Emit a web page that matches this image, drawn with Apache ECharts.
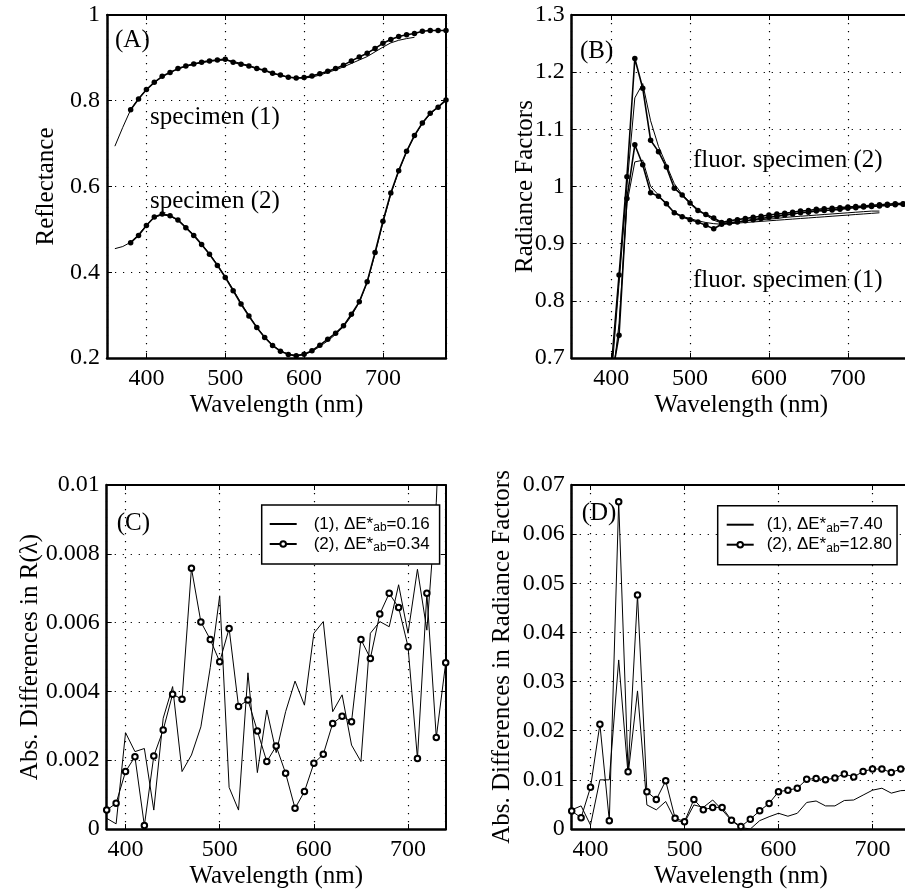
<!DOCTYPE html>
<html><head><meta charset="utf-8">
<script src="https://cdn.jsdelivr.net/npm/echarts@6/dist/echarts.min.js"></script>
<style>html,body{margin:0;padding:0;background:#fff}#c{width:905px;height:895px}</style>
</head><body><div id="c"></div>
<script>
// ---------- wavelengths (nm) ----------
const wl380to780 = [380,390,400,410,420,430,440,450,460,470,480,490,500,510,520,530,540,550,560,570,580,590,600,610,620,630,640,650,660,670,680,690,700,710,720,730,740,750,760,770,780];
const wl360to740 = [360,370,380,390,400,410,420,430,440,450,460,470,480,490,500,510,520,530,540,550,560,570,580,590,600,610,620,630,640,650,660,670,680,690,700,710,720,730,740];
const wl360to780 = [360,370,380,390,400,410,420,430,440,450,460,470,480,490,500,510,520,530,540,550,560,570,580,590,600,610,620,630,640,650,660,670,680,690,700,710,720,730,740,750,760,770,780];
const wl400to780 = [400,410,420,430,440,450,460,470,480,490,500,510,520,530,540,550,560,570,580,590,600,610,620,630,640,650,660,670,680,690,700,710,720,730,740,750,760,770,780];
const wl400to740 = [400,410,420,430,440,450,460,470,480,490,500,510,520,530,540,550,560,570,580,590,600,610,620,630,640,650,660,670,680,690,700,710,720,730,740];
const wl380to740 = [380,390,400,410,420,430,440,450,460,470,480,490,500,510,520,530,540,550,560,570,580,590,600,610,620,630,640,650,660,670,680,690,700,710,720,730,740];

// ---------- (A) reflectance ----------
const specimen1Measured = [0.779,0.804,0.826,0.843,0.857,0.866,0.875,0.881,0.886,0.890,0.893,0.895,0.897,0.890,0.885,0.881,0.875,0.871,0.864,0.860,0.855,0.853,0.854,0.858,0.863,0.869,0.875,0.883,0.893,0.902,0.911,0.922,0.934,0.943,0.950,0.954,0.957,0.962,0.964,0.964,0.964];
const specimen1Fit = [0.694,0.738,0.779,0.805,0.826,0.842,0.856,0.866,0.874,0.880,0.885,0.889,0.892,0.894,0.895,0.892,0.887,0.882,0.876,0.870,0.864,0.859,0.855,0.853,0.853,0.855,0.860,0.866,0.872,0.879,0.887,0.895,0.903,0.914,0.925,0.935,0.941,0.945,0.948];
const specimen2Measured = [0.469,0.486,0.509,0.529,0.536,0.532,0.522,0.504,0.486,0.465,0.442,0.416,0.388,0.357,0.326,0.298,0.271,0.248,0.229,0.216,0.208,0.205,0.209,0.217,0.230,0.244,0.258,0.275,0.302,0.331,0.378,0.446,0.519,0.585,0.637,0.682,0.719,0.748,0.771,0.785,0.802];
const specimen2Fit = [0.455,0.460,0.470,0.488,0.510,0.528,0.534,0.531,0.521,0.505,0.487,0.466,0.443,0.418,0.390,0.360,0.328,0.299,0.272,0.249,0.230,0.217,0.209,0.206,0.208,0.215,0.227,0.240,0.255,0.273,0.298,0.330,0.376,0.443,0.515,0.582,0.636,0.681,0.718,0.747,0.769,0.785,0.800];

// ---------- (B) radiance factors ----------
const fluor2Measured = [0.68,0.845,1.017,1.224,1.172,1.081,1.061,1.034,0.997,0.985,0.971,0.958,0.951,0.945,0.937,0.940,0.942,0.944,0.946,0.948,0.950,0.952,0.953,0.955,0.957,0.958,0.960,0.961,0.962,0.963,0.964,0.965,0.966,0.967,0.968,0.969,0.970,0.970,0.971];
const fluor1Measured = [0.66,0.740,0.979,1.073,1.038,0.989,0.983,0.970,0.954,0.947,0.942,0.938,0.932,0.926,0.934,0.936,0.938,0.940,0.942,0.944,0.946,0.948,0.950,0.952,0.954,0.955,0.957,0.958,0.959,0.960,0.962,0.963,0.964,0.965,0.966,0.967,0.968,0.969,0.970];
const fluor2Fit = [0.66,0.83,1.00,1.155,1.180,1.115,1.070,1.038,1.005,0.986,0.972,0.960,0.950,0.941,0.936,0.937,0.938,0.940,0.941,0.942,0.943,0.944,0.946,0.947,0.948,0.949,0.950,0.951,0.952,0.953,0.954,0.955,0.956,0.957,0.957];
const fluor1Fit = [0.64,0.76,0.97,1.043,1.046,1.000,0.985,0.968,0.955,0.948,0.944,0.940,0.937,0.935,0.934,0.935,0.936,0.937,0.938,0.939,0.940,0.941,0.942,0.943,0.944,0.945,0.946,0.947,0.948,0.949,0.950,0.951,0.952,0.953,0.954];

// ---------- (C) abs. differences in R ----------
const diffR1 = [0.00031,0.00015,0.00280,0.00225,0.00234,0.00055,0.00322,0.00414,0.00167,0.00215,0.00297,0.00470,0.00678,0.00121,0.00055,0.00454,0.00164,0.00346,0.00222,0.00341,0.00430,0.00360,0.00569,0.00603,0.00341,0.00390,0.00244,0.00196,0.00569,0.00603,0.00588,0.00710,0.00569,0.00755,0.00578,0.00950,0.01600];
const diffR2 = [0.00055,0.00075,0.00167,0.00210,0.00010,0.00212,0.00288,0.00392,0.00377,0.00758,0.00602,0.00551,0.00486,0.00583,0.00356,0.00375,0.00285,0.00196,0.00241,0.00162,0.00060,0.00109,0.00191,0.00217,0.00307,0.00328,0.00312,0.00551,0.00496,0.00625,0.00685,0.00644,0.00530,0.00205,0.00685,0.00266,0.00483];

// ---------- (D) abs. differences in radiance factors ----------
const diffF1 = [0.0039,0.0047,0.0008,0.0100,0.0100,0.0344,0.0110,0.0281,0.0049,0.0039,0.0056,0.0018,0.0013,0.0049,0.0044,0.0059,0.0039,0.0017,0.0003,0.0000,0.0017,0.0025,0.0032,0.0026,0.0032,0.0054,0.0057,0.0047,0.0047,0.0058,0.0059,0.0069,0.0079,0.0083,0.0073,0.0078,0.0079];
const diffF2 = [0.00366,0.0023,0.00848,0.0213,0.0017,0.0666,0.01167,0.0476,0.0076,0.0060,0.0098,0.0022,0.0015,0.0060,0.0039,0.0044,0.0044,0.0018,0.0005,0.0020,0.0037,0.0052,0.0076,0.0079,0.0083,0.0101,0.0103,0.0100,0.0104,0.0112,0.0106,0.0117,0.0122,0.0122,0.0115,0.0122,0.0123];

// ---------- texts ----------
const legendC = {C1: ['(1), ΔE*', 'ab', '=0.16'], C2: ['(2), ΔE*', 'ab', '=0.34']};
const legendD = {D1: ['(1), ΔE*', 'ab', '=7.40'], D2: ['(2), ΔE*', 'ab', '=12.80']};

const SERIF = "'Liberation Serif','Times New Roman',serif";
const SANS = "'Liberation Sans',Arial,sans-serif";
const zip = (xs, ys) => xs.map((x, i) => [x, ys[i]]);

function xPair(gi, min, max) {
  return [{
    type: 'value', gridIndex: gi, min: min, max: max, minInterval: 100, maxInterval: 100, position: 'bottom',
    name: 'Wavelength (nm)', nameLocation: 'middle', nameGap: 35, nameMoveOverlap: false,
    nameTextStyle: {fontFamily: SERIF, fontSize: 25, color: '#000'},
    axisLine: {show: true, onZero: false, lineStyle: {color: '#000', width: 2.5}},
    axisTick: {show: true, inside: true, length: 5, lineStyle: {color: '#000', width: 1}},
    axisLabel: {show: true, margin: 9, fontFamily: SERIF, fontSize: 24, color: '#000', showMinLabel: false, showMaxLabel: false},
    splitLine: {show: true, lineStyle: {color: '#000', width: 1.2, type: [1.2, 6.8]}}
  }, {
    type: 'value', gridIndex: gi, min: min, max: max, minInterval: 100, maxInterval: 100, position: 'top',
    axisLine: {show: true, onZero: false, lineStyle: {color: '#000', width: 2}},
    axisTick: {show: true, inside: true, length: 5, lineStyle: {color: '#000', width: 1}},
    axisLabel: {show: false}, splitLine: {show: false}
  }];
}
function yPair(gi, min, max, interval, name, gap) {
  return [{
    type: 'value', gridIndex: gi, min: min, max: max, interval: interval, position: 'left',
    name: name, nameLocation: 'middle', nameGap: gap, nameMoveOverlap: false,
    nameTextStyle: {fontFamily: SERIF, fontSize: 25, color: '#000'},
    axisLine: {show: true, onZero: false, lineStyle: {color: '#000', width: 2.5}},
    axisTick: {show: true, inside: true, length: 5, lineStyle: {color: '#000', width: 1}},
    axisLabel: {show: true, margin: 7, fontFamily: SERIF, fontSize: 24, color: '#000'},
    splitLine: {show: true, lineStyle: {color: '#000', width: 1.2, type: [1.2, 6.8]}}
  }, {
    type: 'value', gridIndex: gi, min: min, max: max, interval: interval, position: 'right',
    axisLine: {show: true, onZero: false, lineStyle: {color: '#000', width: 2}},
    axisTick: {show: true, inside: true, length: 5, lineStyle: {color: '#000', width: 1}},
    axisLabel: {show: false}, splitLine: {show: false}
  }];
}
function thin(name, ax, data) {
  return {name: name, type: 'line', xAxisIndex: ax, yAxisIndex: ax, data: data, symbol: 'none',
    lineStyle: {color: '#000', width: 1}, itemStyle: {color: '#000'}, z: 3};
}
function dotted(name, ax, data) {
  return {name: name, type: 'line', xAxisIndex: ax, yAxisIndex: ax, data: data, symbol: 'circle', symbolSize: 5.5,
    lineStyle: {color: '#000', width: 1.6}, itemStyle: {color: '#000'}, z: 4};
}
function circled(name, ax, data) {
  return {name: name, type: 'line', xAxisIndex: ax, yAxisIndex: ax, data: data, symbol: 'emptyCircle', symbolSize: 5.5,
    lineStyle: {color: '#000', width: 1}, itemStyle: {color: '#000', borderColor: '#000', borderWidth: 1}, z: 4};
}
function legendFor(names, texts, left, top, padding, gapPad) {
  return {
    data: [{name: names[0], itemStyle: {opacity: 0}}, {name: names[1]}],
    orient: 'vertical', left: left, top: top, padding: padding, itemGap: 0,
    itemWidth: 27, itemHeight: 7, selectedMode: false,
    backgroundColor: '#fff', borderColor: '#000', borderWidth: 1.5, borderRadius: 0,
    textStyle: {fontFamily: SANS, fontSize: 17, color: '#000', lineHeight: 20,
      rich: {
        p: {fontFamily: SANS, fontSize: 17, color: '#000', lineHeight: 20, padding: [0, 0, 0, gapPad]},
        t: {fontFamily: SANS, fontSize: 17, color: '#000', lineHeight: 20},
        s: {fontFamily: SANS, fontSize: 12, color: '#000', lineHeight: 2, verticalAlign: 'bottom'}
      }},
    formatter: function (n) { const t = texts[n]; return '{p|' + t[0] + '}{s|' + t[1] + '}{t|' + t[2] + '}'; }
  };
}
function label(text, x, y) {
  return {type: 'text', x: x, y: y, z: 100,
    style: {text: text, fontFamily: SERIF, fontSize: 25, fill: '#000', verticalAlign: 'middle', align: 'left'}};
}

const option = {
  animation: false,
  backgroundColor: '#fff',
  grid: [
    {left: 107, top: 15, width: 339, height: 343, outerBoundsMode: 'none'},
    {left: 571.7, top: 15, width: 339.3, height: 343, outerBoundsMode: 'none'},
    {left: 106.7, top: 485, width: 339, height: 344, outerBoundsMode: 'none'},
    {left: 571.7, top: 485, width: 338.4, height: 344, outerBoundsMode: 'none'}
  ],
  xAxis: [].concat(xPair(0, 350, 780), xPair(1, 350, 780), xPair(2, 380, 740), xPair(3, 380, 740)),
  yAxis: [].concat(
    yPair(0, 0.2, 1, 0.2, 'Reflectance', 48),
    yPair(1, 0.7, 1.3, 0.1, 'Radiance Factors', 34),
    yPair(2, 0, 0.01, 0.002, 'Abs. Differences in R(λ)', 64),
    yPair(3, 0, 0.07, 0.01, 'Abs. Differences in Radiance Factors', 57)
  ),
  legend: [
    legendFor(['C1', 'C2'], legendC, 261.7, 505, [9, 10, 10, 7], 12),
    legendFor(['D1', 'D2'], legendD, 717.7, 505.7, [9, 5, 10, 8], 8)
  ],
  series: [
    thin('A1fit', 0, zip(wl360to740, specimen1Fit)),
    dotted('A1', 0, zip(wl380to780, specimen1Measured)),
    thin('A2fit', 0, zip(wl360to780, specimen2Fit)),
    dotted('A2', 0, zip(wl380to780, specimen2Measured)),
    thin('B1fit', 2, zip(wl400to740, fluor1Fit)),
    thin('B2fit', 2, zip(wl400to740, fluor2Fit)),
    dotted('B1', 2, zip(wl400to780, fluor1Measured)),
    dotted('B2', 2, zip(wl400to780, fluor2Measured)),
    thin('C1', 4, zip(wl380to740, diffR1)),
    circled('C2', 4, zip(wl380to740, diffR2)),
    thin('D1', 6, zip(wl380to740, diffF1)),
    circled('D2', 6, zip(wl380to740, diffF2))
  ],
  graphic: [
    label('(A)', 115, 40),
    label('(B)', 580, 51),
    label('(C)', 116.7, 523),
    label('(D)', 581.7, 513),
    label('specimen (1)', 150, 117),
    label('specimen (2)', 150, 201),
    label('fluor. specimen (2)', 693, 160),
    label('fluor. specimen (1)', 693, 280)
  ]
};
const chart = echarts.init(document.getElementById('c'), null, {renderer: 'canvas'});
chart.setOption(option);
</script>
</body></html>
